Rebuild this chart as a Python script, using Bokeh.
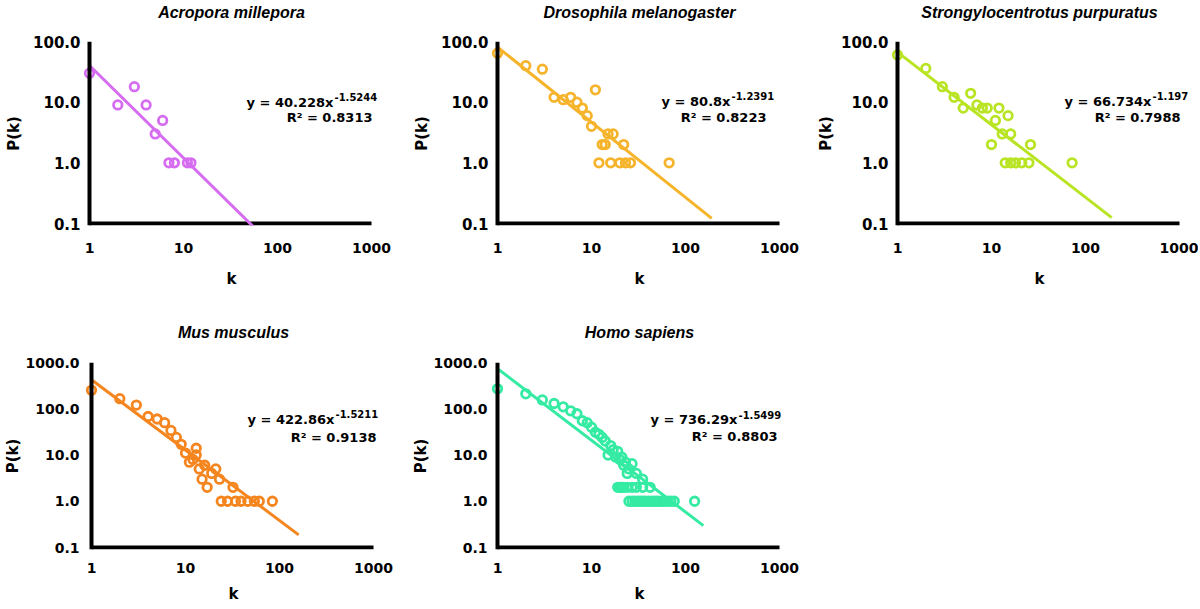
from bokeh.plotting import figure
from bokeh.layouts import column, row
from bokeh.models import (Span, Label, FixedTicker, Range1d, CustomJSTickFormatter,
                          LogAxis)
from bokeh.embed import file_html
from bokeh.resources import INLINE

# ---------------- data ----------------
SPECIES = ["Acropora millepora", "Drosophila melanogaster",
           "Strongylocentrotus purpuratus", "Mus musculus", "Homo sapiens"]
COLORS = ["#d66cf0", "#f6b42c", "#b9e424", "#f5861f", "#35eba3"]

ACRO_K = [1, 2, 3, 4, 5, 6, 7, 8, 11, 12]
ACRO_P = [30, 9, 18, 9, 3, 5, 1, 1, 1, 1]

DROS_K = [1, 2, 3, 4, 5, 6, 7, 8, 9, 10, 11, 13, 14, 15, 17, 22, 12, 16, 20, 23, 26, 67]
DROS_P = [64, 40, 35, 12, 11, 12, 10, 8, 6, 4, 16, 2, 2, 3, 3, 2, 1, 1, 1, 1, 1, 1]

STRO_K = [1, 2, 3, 4, 5, 6, 7, 8, 9, 12, 15, 11, 13, 16, 10, 26, 14, 16, 18, 21, 25, 72]
STRO_P = [60, 36, 18, 12, 8, 14, 9, 8, 8, 8, 6, 5, 3, 3, 2, 2, 1, 1, 1, 1, 1, 1]

MUS_K = [1, 2, 3, 4, 5, 6, 7, 8, 9, 10, 11, 12, 13, 13, 14, 15, 16, 17, 19, 21, 23, 32,
         24, 28, 34, 39, 46, 54, 61, 84]
MUS_P = [250, 165, 120, 68, 60, 50, 34, 24, 17, 11, 7, 8, 14, 10, 5, 3, 6, 2, 4, 5, 3, 2,
         1, 1, 1, 1, 1, 1, 1, 1]

HOMO_K = [1, 2, 3, 4, 5, 6, 7, 8, 9, 10, 11, 12, 13, 14, 15, 16, 17, 18, 19, 20, 21, 22, 23,
          24, 25, 27, 30, 35,
          19, 20, 21, 22, 24, 27, 30, 35, 42,
          25, 27, 29, 31, 33, 35, 37, 40, 43, 46, 49, 52, 56, 60, 65, 70, 76, 125]
HOMO_P = [270, 210, 155, 130, 110, 90, 78, 55, 50, 40, 31, 28, 24, 20, 10, 16, 13, 9, 12, 8, 9,
          6, 7, 4, 5, 6.5, 4, 3,
          2, 2, 2, 2, 2, 2, 2, 2, 2,
          1, 1, 1, 1, 1, 1, 1, 1, 1, 1, 1, 1, 1, 1, 1, 1, 1, 1]

SERIES_K = [ACRO_K, DROS_K, STRO_K, MUS_K, HOMO_K]
SERIES_P = [ACRO_P, DROS_P, STRO_P, MUS_P, HOMO_P]

FIT_A = [40.228, 80.8, 66.734, 422.86, 736.29]
FIT_B = [-1.5244, -1.2391, -1.197, -1.5211, -1.5499]
FIT_KMAX = [200, 190, 190, 160, 155]
EQ_A_TEXT = ["40.228", "80.8", "66.734", "422.86", "736.29"]
EQ_B_TEXT = ["-1.5244", "-1.2391", "-1.197", "-1.5211", "-1.5499"]
R2_TEXT = ["0.8313", "0.8223", "0.7988", "0.9138", "0.8803"]

X_TICKS = [1, 10, 100, 1000]
X_LABELS = ["1", "10", "100", "1000"]
Y_TICKS_TOP = [0.1, 1, 10, 100]
Y_LABELS_TOP = ["0.1", "1.0", "10.0", "100.0"]
Y_TICKS_BOT = [0.1, 1, 10, 100, 1000]
Y_LABELS_BOT = ["0.1", "1.0", "10.0", "100.0", "1000.0"]

# ---------------- layout / style ----------------
DX = 94.0            # px per decade on k axis
PAD = 8              # px left of k=1 so the first markers are not clipped
PADR = 10            # px right of k=1000 (room for the equation text)
PADB = 2             # px below the lowest y tick
FW = PAD + 3 * DX + PADR

# annotation placement (pixel offsets from the k=1 / lowest-tick corner)
EQ_MAIN_DX = [244, 233, 254, 243, 240]
EQ_MAIN_DY = [121.3, 122.3, 122.3, 128.4, 127.7]
EQ_SUP_DY = [127, 128, 128, 134, 133]
R2_DX = [283, 269, 283, 285, 280]
R2_DY = [106.3, 105.7, 106.3, 110, 110.7]

BOLD = "DejaVu Sans"


def tick_fmt(tvals, tlabels):
    return CustomJSTickFormatter(args=dict(tv=tvals, tl=tlabels), code="""
        for (let i = 0; i < tv.length; i++) {
            if (Math.abs(Math.log10(tv[i]) - Math.log10(tick)) < 1e-6) return tl[i];
        }
        return "";
    """)


def make_panel(i, W, H, L, T, yticks, ylabels, dy, yfs, ystand, ylab_stand,
               title_stand, xstand, xlab_stand):
    ndec = len(yticks) - 1
    FH = PADB + ndec * dy
    x0 = X_TICKS[0] * 10 ** (-PAD / DX)
    x1 = X_TICKS[-1] * 10 ** (PADR / DX)
    y0 = yticks[0] * 10 ** (-PADB / dy)
    p = figure(width=W, height=H, x_axis_type="log", y_axis_type="log",
               x_range=Range1d(x0, x1), y_range=Range1d(y0, yticks[-1]),
               output_backend="svg", toolbar_location=None,
               min_border_left=L, min_border_right=int(round(W - L - FW)),
               min_border_top=T, min_border_bottom=int(round(H - T - FH)))
    p.outline_line_color = None
    p.background_fill_color = "white"
    p.border_fill_color = "white"
    p.xgrid.visible = False
    p.ygrid.visible = False

    for ax in (p.xaxis, p.yaxis):
        ax.axis_line_color = None
        ax.major_tick_line_color = None
        ax.minor_tick_line_color = None
        ax.major_tick_out = 0
        ax.major_tick_in = 0
        ax.minor_tick_out = 0
        ax.major_label_text_font = BOLD
        ax.major_label_text_font_style = "bold"
        ax.major_label_text_color = "black"
        ax.axis_label_text_font = BOLD
        ax.axis_label_text_font_style = "bold"
        ax.axis_label_text_font_size = "15px"
        ax.axis_label_text_color = "black"

    p.xaxis.ticker = FixedTicker(ticks=X_TICKS)
    p.xaxis.formatter = tick_fmt(X_TICKS, X_LABELS)
    p.xaxis.major_label_text_font_size = "14px"
    p.xaxis.major_label_standoff = xstand
    p.xaxis.axis_label = "k"
    p.xaxis.axis_label_standoff = xlab_stand

    p.yaxis.ticker = FixedTicker(ticks=yticks)
    p.yaxis.formatter = tick_fmt(yticks, ylabels)
    p.yaxis.major_label_text_font_size = yfs
    p.yaxis.major_label_standoff = ystand
    p.yaxis.axis_label = "P(k)"
    p.yaxis.axis_label_standoff = ylab_stand

    # species title as the label of an empty axis above the frame
    tax = LogAxis(ticker=FixedTicker(ticks=[]), axis_label=SPECIES[i],
                  axis_line_color=None, major_tick_line_color=None,
                  minor_tick_line_color=None, major_tick_out=0, minor_tick_out=0,
                  major_label_standoff=0, axis_label_standoff=title_stand,
                  axis_label_text_font="Liberation Sans",
                  axis_label_text_font_style="bold italic",
                  axis_label_text_font_size="16px", axis_label_text_color="black")
    p.add_layout(tax, "above")

    c = COLORS[i]
    # axes lines
    p.add_layout(Span(location=X_TICKS[0], dimension="height",
                      line_color="black", line_width=4))
    p.line([X_TICKS[0], X_TICKS[-1]], [yticks[0], yticks[0]],
           line_color="black", line_width=4)

    # data
    p.scatter(SERIES_K[i], SERIES_P[i], marker="circle", size=8.5,
              line_color=c, line_width=2.8, fill_color=None)
    kk = [X_TICKS[0], FIT_KMAX[i]]
    pp = [FIT_A[i] * x ** FIT_B[i] for x in kk]
    p.line(kk, pp, line_color=c, line_width=3)

    # equation + R^2
    def kx(dx):
        return X_TICKS[0] * 10 ** (dx / DX)

    def py(d):
        return yticks[0] * 10 ** (d / dy)

    common = dict(text_font=BOLD, text_font_style="bold", text_color="black",
                  text_baseline="middle")
    p.add_layout(Label(x=kx(EQ_MAIN_DX[i]), y=py(EQ_MAIN_DY[i]),
                       text="y = " + EQ_A_TEXT[i] + "x", text_align="right",
                       text_font_size="13px", **common))
    p.add_layout(Label(x=kx(EQ_MAIN_DX[i] + 1), y=py(EQ_SUP_DY[i]),
                       text=EQ_B_TEXT[i], text_align="left",
                       text_font_size="10px", **common))
    p.add_layout(Label(x=kx(R2_DX[i]), y=py(R2_DY[i]),
                       text="R\u00b2 = " + R2_TEXT[i], text_align="right",
                       text_font_size="13px", **common))
    return p


DY_TOP = 182 / 3.0
DY_BOT = 185 / 4.0

f1 = make_panel(0, 408, 294, 81, 41, Y_TICKS_TOP, Y_LABELS_TOP, DY_TOP, "15px", 1, 7, 21, 17, 14)
f2 = make_panel(1, 404, 294, 81, 41, Y_TICKS_TOP, Y_LABELS_TOP, DY_TOP, "15px", 1, 7, 21, 17, 14)
f3 = make_panel(2, 386, 294, 77, 41, Y_TICKS_TOP, Y_LABELS_TOP, DY_TOP, "15px", 1, 3, 21, 17, 14)
f4 = make_panel(3, 408, 313, 83, 68, Y_TICKS_BOT, Y_LABELS_BOT, DY_BOT, "14px", 4, 0, 22, 13, 9)
f5 = make_panel(4, 404, 313, 81, 68, Y_TICKS_BOT, Y_LABELS_BOT, DY_BOT, "14px", 2, 0, 22, 13, 9)

layout = column(row(f1, f2, f3), row(f4, f5))
open("out.html", "w").write(file_html(layout, INLINE, "Degree distributions"))
